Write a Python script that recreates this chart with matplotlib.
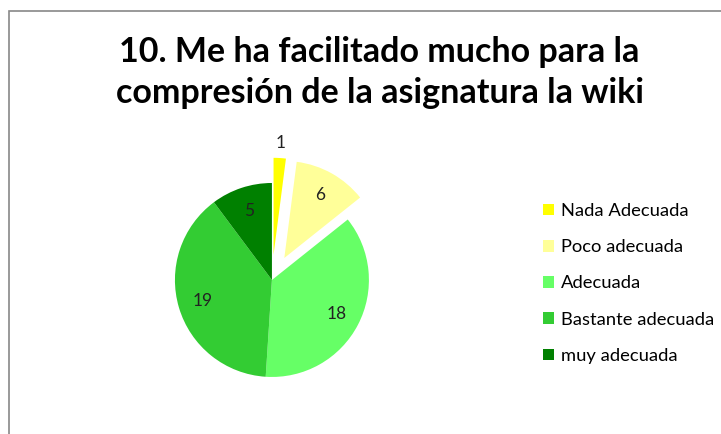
import matplotlib
matplotlib.use("Agg")
from matplotlib import pyplot as plt
from matplotlib.patches import Rectangle

labels = ["Nada Adecuada", "Poco adecuada", "Adecuada", "Bastante adecuada", "muy adecuada"]
values = [1, 6, 18, 19, 5]
colors = ["#FFFF00", "#FFFF99", "#66FF66", "#33CC33", "#008000"]
explode = [0.26, 0.26, 0, 0, 0]

plt.rcParams['font.family'] = ['Lato', 'DejaVu Sans']

fig = plt.figure(figsize=(7.21, 4.34), dpi=100)

# grey chart border (open at right/bottom like the crop)
fig.patches.append(Rectangle((9 / 721, -0.1), 1.2, 1 - 11 / 434 + 0.1,
                             transform=fig.transFigure, fill=False,
                             edgecolor="#888888", linewidth=1.2))

fig.text(0.5265, 0.833, "10. Me ha facilitado mucho para la\ncompresión de la asignatura la wiki",
         ha="center", va="center", fontsize=24.5, fontweight="bold",
         linespacing=1.35, color="black")

ax = fig.add_axes([0.209, 0.0755, 0.3363, 0.5588])
wedges, texts, autotexts = ax.pie(values, colors=colors, explode=explode,
                                  startangle=90, counterclock=False,
                                  autopct=lambda p: "%d" % round(p * sum(values) / 100),
                                  pctdistance=0.75,
                                  wedgeprops=dict(linewidth=0),
                                  textprops=dict(fontsize=12.5, color="#222222"))
# the tiny slice has its label outside
x, y = autotexts[0].get_position()
autotexts[0].set_position((x * 1.4, y * 1.4))

fig.legend(wedges, labels, loc="upper left", bbox_to_anchor=(0.73, 0.57),
           frameon=False, fontsize=13.2, handlelength=0.6, handleheight=0.6,
           handletextpad=0.4, labelspacing=1.1)

fig.savefig("out.png", dpi=100)
